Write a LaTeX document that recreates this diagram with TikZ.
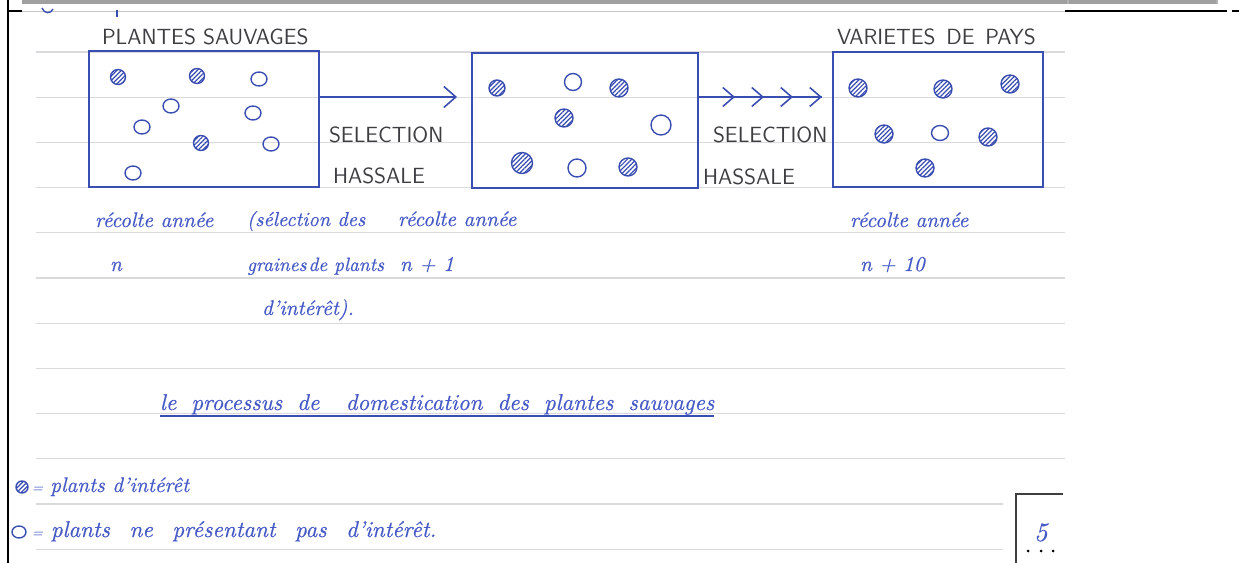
\documentclass[tikz,border=0pt]{standalone}
\usepackage{fontspec}
\newfontfamily\handfont[Ligatures=TeX,FakeBold=0.6]{lmroman10-italic.otf}
\usetikzlibrary{arrows.meta,decorations.markings,patterns.meta}
\definecolor{ink}{RGB}{58,78,178}
\definecolor{pen}{RGB}{70,90,198}
\definecolor{lead}{RGB}{62,62,66}
\definecolor{rule}{RGB}{218,218,222}

\begin{document}
\begin{tikzpicture}[x=0.02cm,y=-0.02cm,inner sep=0pt,outer sep=0pt,
plot/.style={draw=ink,line width=1.1pt,rectangle,minimum height=2.7cm},
good/.style={draw=ink,line width=0.8pt,pattern={Lines[angle=45,distance=1.8pt,line width=0.7pt]},pattern color=ink},
plain/.style={draw=ink,line width=0.8pt},
caps/.style={text=lead,font=\sffamily\fontsize{12.5}{14}\selectfont,anchor=base west},
hand/.style={text=pen,font=\handfont\fontsize{12}{14}\selectfont,anchor=base west},
sel/.style={draw=ink,line width=0.9pt}]

\useasboundingbox (0,0) rectangle (1239,563);

% ruled paper
\foreach \k in {0,...,9}
  \draw[rule,line width=0.6pt] (36,52+45.2*\k) -- (1065,52+45.2*\k);
\foreach \k in {10,11}
  \draw[rule,line width=0.6pt] (36,52+45.2*\k) -- (1003,52+45.2*\k);

% sheet border
\draw[gray!75,line width=1.8pt] (22,2) -- (1217,2);
\draw[gray!60,line width=0.6pt] (1068,0) -- (1068,4) (1217,0) -- (1217,4);
\draw[gray!45,line width=0.5pt] (22,11) -- (1065,11);
\draw[black,line width=1.1pt] (1065,11) -- (1227,11) (1232,11) -- (1239,11);
\draw[black,line width=1.1pt] (8,11) -- (22,11);
\draw[black,line width=1.7pt] (8,0) -- (8,563);
\draw[ink,line width=0.8pt] (42,8) .. controls (44,14) and (51,14) .. (53,9);
\draw[ink,line width=0.8pt] (117,10) -- (117,17);

% the three harvests
\draw (204,119) node[plot,minimum width=4.6cm,minimum height=2.72cm] (wild) {};
\draw (585,120.5) node[plot,minimum width=4.52cm] (crop) {};
\draw (938,119.5) node[plot,minimum width=4.2cm] (country) {};

\foreach \x/\y in {118/77,197/76,201/143}
  \draw[good] (\x,\y) circle[radius=0.15cm];
\foreach \x/\y in {259/79,171/106,253/113,142/127,271/144,133/173}
  \draw[plain] (\x,\y) circle[x radius=0.16cm,y radius=0.14cm];

\foreach \x/\y/\r in {497/88/0.16cm,619/88/0.18cm,564/118/0.18cm,522/163/0.21cm,628/167/0.18cm}
  \draw[good] (\x,\y) circle[radius=\r];
\foreach \x/\y/\r in {573/82/0.17cm,661/125/0.2cm,577/168/0.18cm}
  \draw[plain] (\x,\y) circle[radius=\r];

\foreach \x/\y in {858/88,943/89,1010/84,884/134,988/137,925/168}
  \draw[good] (\x,\y) circle[radius=0.18cm];
\draw[plain] (940,133) circle[x radius=0.17cm,y radius=0.15cm];

% selection arrows
\draw[sel,-{Straight Barb[length=0.24cm,width=0.42cm]},shorten >=0.3cm] (wild.east |- 0,97) -- (crop.west |- 0,97);
\draw[sel,shorten >=0.22cm,postaction={decorate},decoration={markings,
  mark=at position 0.74cm with {\arrow{Straight Barb[length=0.22cm,width=0.38cm]}},
  mark=at position 1.32cm with {\arrow{Straight Barb[length=0.22cm,width=0.38cm]}},
  mark=at position 1.9cm with {\arrow{Straight Barb[length=0.22cm,width=0.38cm]}},
  mark=at position 2.48cm with {\arrow{Straight Barb[length=0.22cm,width=0.38cm]}}}]
  (crop.east |- 0,97) -- (country.west |- 0,97);

\draw (102,45) node[caps] (wildname) {PLANTES SAUVAGES};
\draw (837,45) node[caps] (countryname) {VARIETES\, DE\, PAYS};
\draw (329,143) node[caps] (selA) {SELECTION};
\draw (333,184) node[caps] (masA) {HASSALE};
\draw (713,143) node[caps] (selB) {SELECTION};
\draw (703,185) node[caps] (masB) {HASSALE};

% handwritten notes
\draw (95,227) node[hand] (yearA) {récolte année};
\draw (110,271) node[hand] (nA) {n};
\draw (247,226) node[hand,font=\handfont\fontsize{11.5}{14}\selectfont] (whyA) {(sélection des};
\draw (247,271) node[hand,font=\handfont\fontsize{11}{14}\selectfont] (whyB) {graines\hspace{0.1em}de plants};
\draw (262,315) node[hand] (whyC) {d'intérêt).};
\draw (398,226) node[hand] (yearB) {récolte année};
\draw (400,271) node[hand] (nB) {n + 1};
\draw (850,227) node[hand] (yearC) {récolte année};
\draw (860,271) node[hand] (nC) {n + 10};

\draw (160,410) node[hand,font=\handfont\fontsize{13}{15}\selectfont] (title) {le\hspace{0.3em} processus\hspace{0.3em} de\hspace{0.8em} domestication\hspace{0.3em} des\hspace{0.3em} plantes\hspace{0.3em} sauvages};
\draw[ink,line width=0.9pt] ([yshift=-3.5pt]title.base west) -- ([yshift=-3.5pt]title.base east);

% key
\draw[good] (22,487) circle[radius=0.12cm];
\draw (32,492) node[hand] (keyA) {{\fontsize{8}{8}\selectfont=} plants d'intérêt};
\draw[plain] (19,532) circle[x radius=0.14cm,y radius=0.12cm];
\draw (32,537) node[hand,font=\handfont\fontsize{13}{15}\selectfont] (keyB) {{\fontsize{8}{8}\selectfont=} plants\hspace{0.5em} ne\hspace{0.5em} présentant\hspace{0.5em} pas\hspace{0.5em} d'intérêt.};

% mark box
\draw[lead,line width=0.8pt] (1063,494) -- (1016,494) -- (1016,563);
\draw (1034,541) node[hand,font=\handfont\fontsize{15}{16}\selectfont] (score) {5};
\foreach \x in {1028,1041,1053}
  \fill (\x,551) circle[radius=0.03cm];
\end{tikzpicture}
\end{document}
